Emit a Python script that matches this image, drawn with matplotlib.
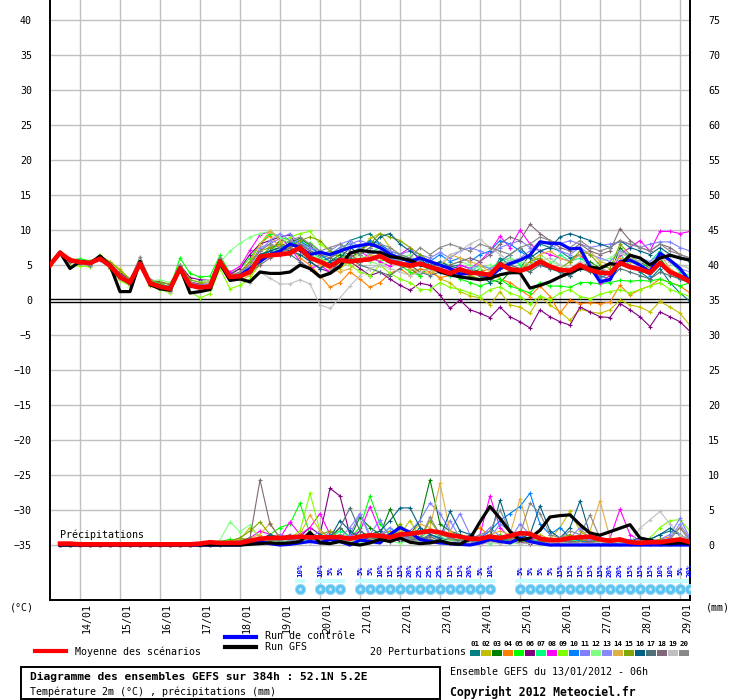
import numpy as np
import matplotlib
matplotlib.use("Agg")
import matplotlib.pyplot as plt
from matplotlib.lines import Line2D
from matplotlib.patches import Rectangle
from matplotlib.transforms import ScaledTranslation

plt.rcParams['font.family'] = ['DejaVu Sans Mono', 'DejaVu Sans']

# time axis: 13/01 06h + 0..384h every 6h
hours = list(range(0, 385, 6))
day_labels = ['14/01', '15/01', '16/01', '17/01', '18/01', '19/01', '20/01', '21/01',
              '22/01', '23/01', '24/01', '25/01', '26/01', '27/01', '28/01', '29/01']
day_hours = [18 + 24 * k for k in range(len(day_labels))]

# temperature 2m (deg C)
mean_t = [5.0, 6.75, 5.7, 5.4, 5.3, 5.9, 4.9, 3.3, 2.5, 5.2, 2.4, 1.9, 1.6, 4.5, 2.1, 1.8, 1.9, 5.5,
          3.3, 3.4, 4.0, 6.2, 6.4, 6.5, 6.7, 7.5, 6.0, 5.5, 4.8, 5.7, 5.5, 5.7, 5.8, 6.3, 5.5, 5.2, 4.9, 5.2, 4.7, 4.3, 3.8,
          4.4, 3.9, 3.8, 3.6, 5.1, 4.4, 4.2, 4.6, 5.5, 4.8, 4.3, 4.2, 5.0, 4.3, 3.9, 3.8, 5.3, 4.7, 4.4, 3.9, 5.3, 4.0, 3.4, 2.6]
ctrl_t = [5.0, 6.8, 5.6, 5.5, 5.3, 6.0, 4.9, 3.2, 2.4, 5.3, 2.4, 1.9, 1.5, 4.6, 2.0, 1.8, 1.8, 5.6,
          3.0, 3.5, 4.5, 5.5, 6.5, 7.0, 8.0, 7.5, 6.5, 6.8, 6.5, 7.0, 7.5, 7.8, 8.0, 7.5, 6.5, 6.0, 5.5, 6.0, 5.5, 5.0, 4.5,
          3.7, 3.8, 3.8, 3.3, 4.5, 5.2, 5.7, 6.4, 8.3, 8.1, 8.1, 7.3, 7.4, 4.8, 2.6, 2.9, 5.5, 5.7, 5.0, 4.0, 6.7, 5.7, 4.5, 2.6]
gfs_t = [5.0, 6.8, 4.5, 5.5, 5.2, 6.3, 5.0, 1.2, 1.2, 5.5, 2.2, 1.6, 1.4, 4.6, 1.0, 1.2, 1.5, 5.2,
         2.8, 3.0, 2.6, 4.0, 3.8, 3.8, 4.0, 5.0, 4.5, 3.3, 3.8, 4.8, 6.7, 7.1, 6.9, 6.8, 6.2, 6.0, 5.7, 5.0, 4.8, 4.0, 3.6,
         3.3, 3.1, 2.9, 3.1, 3.6, 3.9, 3.9, 1.7, 2.1, 2.6, 3.3, 3.9, 4.5, 4.7, 4.5, 5.2, 5.0, 6.4, 6.0, 5.0, 6.0, 6.4, 6.0, 5.7]

t01 = [5.0, 6.8, 5.6, 5.7, 5.2, 6.0, 4.6, 3.6, 2.2, 5.6, 2.6, 2.0, 1.8, 4.2, 2.4, 1.9, 2.1, 5.9,
       3.2, 3.5, 4.2, 6.0, 7.5, 8.0, 7.0, 7.8, 6.5, 5.5, 6.0, 6.8, 8.5, 9.0, 9.5, 8.0, 6.8, 6.0, 5.5, 6.2, 5.0, 5.5, 4.8,
       5.0, 4.5, 4.0, 3.5, 6.0, 5.0, 5.5, 6.5, 8.0, 7.5, 7.0, 6.0, 6.5, 5.0, 4.5, 4.0, 5.5, 5.0, 4.0, 3.0, 4.5, 2.5, 1.0, -0.2]
t02 = [5.0, 6.8, 5.3, 5.5, 5.0, 6.3, 5.5, 4.4, 3.0, 5.0, 2.2, 1.6, 1.2, 4.8, 2.0, 1.5, 1.6, 5.2,
       3.0, 2.8, 3.5, 5.0, 8.0, 6.8, 7.5, 8.5, 7.0, 6.0, 5.0, 4.5, 5.5, 7.0, 8.8, 9.5, 7.5, 6.5, 5.0, 4.0, 4.5, 3.0, 2.5,
       1.2, 0.6, 0.3, -0.7, 1.2, -0.7, -1.0, -1.9, 0.4, -0.7, -1.7, -2.9, -1.3, -1.7, -1.9, -1.4, 0.0, -0.7, -1.0, -1.7, -0.2, -1.0, -1.9, -3.6]
t03 = [5.0, 6.7, 5.8, 5.2, 5.4, 6.1, 4.8, 3.0, 2.6, 5.3, 2.7, 2.3, 1.9, 4.3, 2.5, 2.3, 2.2, 5.4,
       3.5, 3.8, 4.5, 6.5, 7.0, 8.5, 8.2, 8.8, 7.8, 6.5, 5.5, 6.5, 6.0, 7.0, 8.5, 7.5, 6.5, 5.5, 4.5, 3.5, 4.8, 4.2, 3.8,
       4.0, 3.5, 4.5, 3.0, 2.5, 4.0, 4.5, 6.5, 5.5, 5.0, 4.0, 3.5, 4.5, 5.5, 4.5, 3.5, 7.5, 6.0, 5.5, 4.5, 6.0, 4.0, 3.0, 2.5]
t04 = [5.0, 6.8, 5.5, 5.6, 5.1, 5.8, 5.0, 3.4, 2.3, 5.1, 2.0, 1.7, 1.5, 4.7, 2.2, 1.7, 1.8, 5.6,
       3.3, 3.6, 5.5, 8.0, 9.2, 7.5, 7.8, 6.0, 5.0, 3.5, 1.8, 2.5, 4.0, 3.0, 1.8, 2.5, 3.8, 4.5, 3.5, 4.5, 4.0, 3.2, 3.5,
       4.5, 3.5, 4.0, 4.5, 3.0, 2.5, 1.5, 0.5, 2.0, 0.5, -1.9, 0.0, -0.5, -0.4, -0.5, -0.3, 2.1, 0.7, 1.5, 2.0, 3.0, 2.5, 2.0, 1.0]
t05 = [5.0, 6.7, 5.7, 5.9, 5.6, 6.2, 4.7, 3.2, 2.8, 5.5, 2.8, 2.4, 1.7, 6.0, 3.8, 3.3, 3.4, 6.4,
       3.8, 4.5, 6.0, 8.0, 9.5, 9.0, 8.5, 7.5, 8.2, 7.0, 6.5, 7.5, 8.0, 7.5, 6.5, 5.5, 6.0, 5.0, 4.0, 3.5, 5.0, 4.5, 4.0,
       3.0, 2.5, 2.0, 2.5, 3.0, 2.0, 1.5, 1.0, 2.5, 2.0, 2.0, 1.8, 2.5, 2.5, 2.3, 2.5, 2.8, 2.7, 2.8, 2.7, 3.0, 2.5, 2.0, 2.5]
t06 = [5.0, 6.8, 5.9, 5.3, 5.3, 6.0, 5.2, 3.8, 3.0, 5.4, 2.9, 2.6, 2.2, 5.0, 3.2, 2.9, 2.8, 5.8,
       3.6, 4.5, 6.5, 8.0, 8.5, 9.0, 9.3, 7.0, 5.5, 4.5, 4.0, 5.0, 5.5, 4.5, 3.5, 4.0, 3.0, 2.1, 1.4, 2.4, 2.1, 0.7, -1.2,
       0.0, -1.4, -1.9, -2.5, -1.0, -2.4, -3.1, -4.0, -1.4, -2.4, -3.1, -3.6, -1.0, -1.7, -2.4, -2.5, -0.5, -1.4, -2.4, -3.8, -1.7, -2.4, -3.1, -4.5]
t07 = [5.0, 6.7, 5.6, 5.5, 5.5, 5.9, 4.9, 3.1, 2.4, 5.0, 2.5, 2.0, 1.6, 4.4, 2.2, 1.9, 2.0, 5.3,
       3.0, 3.3, 4.0, 5.5, 6.5, 7.5, 8.0, 8.5, 7.0, 6.0, 6.5, 7.0, 6.0, 5.5, 6.8, 7.5, 6.0, 5.5, 5.0, 5.8, 4.5, 4.0, 3.5,
       3.5, 4.0, 5.0, 4.5, 5.5, 6.0, 5.0, 4.5, 5.5, 5.0, 6.5, 5.5, 6.0, 5.0, 4.0, 3.5, 6.5, 5.0, 4.5, 5.5, 7.0, 5.5, 4.0, 3.5]
t08 = [5.0, 6.8, 5.8, 5.3, 5.2, 5.8, 4.8, 3.3, 2.1, 5.2, 2.3, 1.9, 1.4, 4.5, 2.6, 2.2, 2.3, 5.1,
       4.0, 4.8, 7.1, 9.3, 9.8, 9.0, 7.5, 5.5, 4.5, 5.0, 4.0, 5.5, 6.5, 7.0, 6.0, 5.5, 4.8, 6.5, 7.5, 5.5, 5.0, 4.5, 4.2,
       5.0, 4.5, 5.5, 7.0, 9.1, 7.5, 10.0, 8.0, 7.0, 6.5, 6.0, 5.5, 6.5, 5.0, 2.5, 3.5, 6.5, 7.5, 8.5, 7.0, 9.8, 9.8, 9.5, 9.8]
t09 = [5.0, 6.7, 4.8, 4.9, 4.7, 6.5, 4.5, 2.8, 2.0, 5.0, 2.1, 1.5, 1.0, 4.1, 1.2, 0.3, 0.9, 4.5,
       1.6, 2.1, 3.0, 5.5, 7.0, 8.0, 9.0, 9.5, 9.8, 8.0, 7.0, 6.0, 5.0, 4.0, 3.5, 5.0, 3.8, 3.0, 2.5, 1.5, 1.5, 2.5, 1.8,
       1.5, 1.0, 0.5, 1.5, 1.9, 1.0, 0.5, -0.6, 0.6, 0.0, 1.0, 1.5, 0.5, 0.2, 0.8, 1.2, 1.5, 1.0, 1.5, 2.0, 2.5, 1.5, 1.0, 0.5]
t10 = [5.0, 6.8, 5.7, 5.6, 5.4, 5.7, 5.0, 3.5, 2.7, 5.3, 2.4, 1.8, 1.7, 4.6, 2.0, 1.7, 1.9, 5.5,
       3.0, 3.2, 4.5, 6.0, 7.0, 7.5, 8.0, 8.5, 7.5, 6.5, 5.5, 6.0, 6.5, 7.5, 8.5, 8.0, 7.0, 6.5, 6.0, 5.0, 5.5, 6.5, 5.5,
       6.0, 5.5, 6.5, 7.0, 8.5, 8.0, 7.0, 6.0, 5.0, 4.5, 4.0, 3.5, 4.5, 5.0, 3.0, 4.0, 5.5, 5.0, 4.5, 3.5, 5.0, 4.0, 3.0, 2.5]
t11 = [5.0, 6.7, 5.6, 5.4, 5.3, 6.0, 4.8, 3.4, 2.6, 5.4, 2.5, 2.1, 1.7, 4.4, 2.3, 2.0, 2.1, 5.4,
       3.4, 3.8, 5.0, 7.5, 8.0, 8.8, 9.5, 8.0, 7.5, 7.0, 6.5, 7.5, 8.0, 8.5, 8.0, 7.5, 7.0, 6.5, 7.0, 6.5, 6.0, 6.8, 6.0,
       7.0, 7.5, 7.0, 6.5, 7.5, 8.0, 8.5, 7.5, 7.0, 7.5, 8.0, 8.5, 8.0, 7.5, 7.8, 8.0, 8.3, 8.0, 7.5, 8.0, 8.3, 8.3, 7.5, 7.0]
t12 = [5.0, 6.8, 5.5, 5.5, 5.1, 5.9, 4.9, 3.2, 2.5, 5.1, 2.7, 2.9, 2.5, 4.8, 2.8, 2.6, 2.9, 5.3,
       7.0, 8.1, 9.0, 9.5, 9.8, 9.0, 8.0, 7.5, 6.5, 5.8, 5.5, 5.0, 5.5, 6.5, 5.5, 5.0, 5.5, 6.0, 6.5, 5.0, 4.5, 5.5, 5.0,
       5.5, 5.0, 4.5, 5.0, 4.5, 6.0, 5.5, 5.0, 6.5, 5.5, 5.0, 4.5, 5.0, 4.5, 5.5, 6.0, 7.0, 6.0, 5.5, 5.0, 6.0, 5.5, 5.0, 4.5]
t13 = [5.0, 6.7, 5.7, 5.3, 5.4, 5.8, 5.1, 3.6, 2.4, 5.2, 2.6, 2.2, 1.8, 4.6, 2.4, 2.1, 2.2, 5.6,
       3.2, 3.6, 5.0, 7.0, 8.5, 9.5, 8.5, 8.0, 7.0, 6.5, 7.0, 8.0, 8.5, 7.5, 6.5, 7.0, 6.0, 5.5, 6.0, 5.5, 5.0, 4.5, 4.0,
       4.0, 4.5, 5.0, 4.5, 5.0, 5.5, 6.0, 7.0, 8.5, 8.0, 7.0, 6.5, 7.5, 6.5, 6.0, 5.5, 7.0, 6.5, 6.0, 5.5, 6.5, 5.5, 4.5, 4.0]
t14 = [5.0, 6.8, 5.6, 5.5, 5.2, 6.1, 4.7, 3.0, 2.2, 5.0, 2.3, 1.8, 1.4, 4.3, 2.1, 1.8, 2.0, 5.0,
       3.5, 4.0, 5.5, 8.0, 9.9, 8.5, 7.0, 6.5, 6.0, 5.0, 4.5, 4.0, 4.5, 5.5, 6.5, 6.0, 5.5, 5.0, 4.5, 4.0, 3.8, 4.5, 6.5,
       6.0, 5.5, 5.0, 4.0, 5.5, 5.0, 4.5, 5.5, 6.5, 7.0, 6.0, 5.5, 6.5, 7.0, 5.5, 5.0, 6.0, 5.5, 5.0, 4.5, 6.5, 4.5, 3.5, 3.0]
t15 = [5.0, 6.7, 5.8, 5.6, 5.5, 6.2, 5.4, 4.2, 2.9, 5.6, 2.8, 2.5, 2.3, 4.9, 2.9, 2.5, 2.6, 5.7,
       3.4, 4.0, 5.5, 7.0, 7.5, 8.0, 7.5, 8.5, 9.0, 8.5, 7.0, 6.0, 6.5, 7.0, 8.0, 9.5, 9.0, 8.5, 7.5, 6.5, 5.5, 5.0, 4.5,
       4.0, 3.5, 3.0, 4.0, 5.0, 4.5, 4.0, 5.5, 6.0, 5.0, 4.5, 5.5, 7.0, 6.5, 5.0, 4.5, 8.0, 6.5, 5.0, 4.0, 5.5, 4.0, 3.5, 3.0]
t16 = [5.0, 6.8, 5.7, 5.4, 5.3, 5.9, 4.9, 3.3, 2.5, 5.3, 2.4, 2.0, 1.6, 4.5, 2.3, 2.0, 2.0, 5.5,
       3.2, 3.4, 4.5, 6.5, 7.0, 7.5, 7.0, 6.5, 5.5, 4.5, 5.5, 6.0, 7.5, 6.5, 7.5, 9.0, 9.5, 8.0, 7.0, 6.0, 4.5, 5.5, 4.8,
       4.5, 4.0, 3.5, 2.5, 5.5, 6.5, 7.5, 6.0, 7.0, 7.5, 9.0, 9.5, 9.0, 8.5, 8.0, 7.5, 8.5, 7.5, 7.0, 6.5, 7.5, 6.5, 6.0, 5.5]
t17 = [5.0, 6.7, 5.6, 5.5, 5.2, 5.8, 5.0, 3.5, 2.6, 5.4, 2.5, 2.1, 1.9, 4.6, 2.4, 2.0, 2.1, 5.4,
       3.3, 3.5, 4.5, 6.0, 6.5, 7.0, 6.5, 5.5, 4.5, 3.5, 4.0, 5.5, 6.0, 5.0, 4.5, 4.0, 3.5, 4.5, 5.0, 4.0, 3.5, 4.0, 3.8,
       3.5, 4.0, 3.5, 3.0, 4.5, 5.0, 4.5, 4.0, 5.0, 4.5, 4.0, 3.5, 4.5, 4.0, 3.5, 3.0, 4.5, 4.0, 3.5, 3.0, 4.0, 3.5, 3.0, 2.5]
t18 = [5.0, 6.8, 5.5, 5.3, 5.0, 6.0, 4.6, 3.1, 2.3, 5.5, 2.1, 1.7, 1.3, 4.2, 2.0, 1.6, 1.7, 5.2,
       3.1, 3.3, 4.0, 5.0, 6.0, 6.5, 7.5, 8.0, 7.0, 6.5, 6.0, 7.0, 6.5, 5.5, 6.0, 6.5, 5.5, 5.0, 5.5, 6.0, 5.5, 4.5, 5.0,
       5.5, 6.0, 5.5, 6.5, 8.0, 9.0, 8.5, 10.8, 9.5, 8.5, 7.5, 7.0, 8.0, 7.0, 6.5, 7.0, 10.2, 8.5, 7.5, 7.0, 8.0, 7.5, 6.5, 6.0]
t19 = [5.0, 6.7, 5.7, 5.6, 5.4, 5.9, 4.8, 3.2, 2.4, 5.1, 2.3, 1.6, 1.2, 4.4, 1.9, 1.4, 1.6, 5.0,
       3.0, 2.8, 2.5, 4.0, 3.1, 2.3, 2.3, 2.9, 2.3, -0.7, -1.2, 0.3, 2.0, 3.5, 4.5, 5.0, 4.5, 4.0, 3.5, 4.0, 4.5, 5.0, 6.5,
       7.0, 8.0, 8.7, 7.5, 6.5, 5.5, 6.0, 5.0, 5.5, 6.0, 5.0, 4.5, 5.5, 5.0, 4.5, 4.0, 6.7, 6.0, 5.5, 5.0, 6.0, 5.5, 5.0, 4.5]
t20 = [5.0, 6.8, 5.8, 5.4, 4.8, 6.0, 5.2, 3.6, 2.8, 6.2, 2.9, 1.9, 1.5, 5.0, 2.6, 2.0, 2.3, 6.0,
       3.5, 4.0, 5.0, 7.0, 8.0, 7.5, 8.5, 9.0, 8.0, 7.0, 7.5, 8.0, 7.0, 6.5, 7.5, 8.0, 7.5, 6.5, 6.0, 7.5, 6.5, 7.5, 8.0,
       7.5, 7.0, 8.0, 7.5, 7.0, 6.5, 7.5, 8.0, 9.0, 8.5, 8.0, 7.5, 8.5, 7.5, 7.0, 7.5, 8.5, 8.0, 7.5, 7.0, 8.0, 7.0, 6.5, 6.0]

# precipitation (mm) per 6h, from +6h to +384h
mean_p = [0.2, 0.2, 0.1, 0.1, 0.1, 0.1, 0.1, 0.1, 0.1, 0.1, 0.1, 0.1, 0.1, 0.1, 0.2, 0.4,
          0.3, 0.3, 0.3, 0.6, 0.9, 1.0, 1.0, 1.1, 1.2, 1.1, 1.1, 1.1, 1.1, 0.9, 1.2, 1.4,
          1.3, 1.1, 1.5, 1.6, 1.8, 2.0, 1.8, 1.4, 1.2, 0.9, 0.9, 1.2, 1.0, 1.3, 1.7, 1.6,
          0.9, 0.7, 0.7, 1.0, 1.1, 1.2, 0.8, 0.6, 0.8, 0.4, 0.3, 0.4, 0.4, 0.6, 0.8, 0.4]
ctrl_p = [0, 0, 0, 0, 0, 0, 0, 0, 0, 0, 0, 0, 0, 0, 0, 0,
          0, 0, 0, 0.2, 0.5, 0.2, 0, 0.1, 0.3, 0.5, 0.3, 0.8, 0.5, 0, 0.7, 0.5,
          0.3, 1.5, 2.5, 1.8, 0.8, 0.5, 0.3, 0.2, 0.1, 0, 0.3, 0.8, 0.5, 0.3, 1.0, 0.5,
          0.2, 0, 0, 0, 0, 0, 0, 0, 0, 0, 0, 0, 0, 0, 0, 0]
gfs_p = [0, 0, 0, 0, 0, 0, 0, 0, 0, 0, 0, 0, 0, 0, 0, 0,
         0, 0, 0, 0.1, 0.2, 0.3, 0.2, 0.3, 0.5, 1.8, 0.3, 0.2, 0.5, 0.2, 0, 0.3,
         0.8, 0.5, 1.0, 0.4, 0.2, 0.3, 0.6, 0.2, 0.1, 0.9, 3.3, 5.5, 3.8, 1.9, 0.7, 1.0,
         2.1, 4.0, 4.2, 4.3, 2.9, 1.7, 1.4, 1.9, 2.4, 2.9, 1.0, 0.7, 0.3, 0.2, 0.3, 0.2]

p01 = [0, 0, 0, 0, 0, 0, 0, 0, 0, 0, 0, 0, 0, 0, 0, 0.2,
       0.3, 0.5, 1.0, 0.6, 0.4, 1.2, 0.8, 0.5, 1.0, 0.6, 0.4, 1.5, 0.8, 0.5, 2.0, 1.2,
       0.8, 1.5, 0.6, 1.0, 2.5, 1.5, 1.0, 0.6, 0.5, 0.8, 0.4, 1.2, 0.6, 0.8, 1.5, 0.7,
       0.5, 0.3, 0.4, 1.0, 0.6, 0.4, 0.2, 0.3, 0.5, 0.3, 0.2, 0.8, 1.5, 2.0, 1.5, 0.5]
p02 = [0, 0, 0, 0, 0, 0, 0, 0, 0, 0, 0, 0, 0, 0, 0.1, 0.2,
       0.3, 0.5, 0.8, 2.5, 1.2, 0.6, 0.8, 1.0, 0.5, 1.5, 0.8, 0.6, 1.0, 0.5, 0.8, 1.2,
       2.0, 0.8, 1.5, 3.5, 1.0, 0.6, 0.5, 0.8, 1.2, 0.6, 0.4, 0.8, 0.5, 1.0, 0.6, 0.8,
       1.5, 0.8, 2.5, 4.8, 2.0, 1.0, 0.5, 0.3, 0.6, 0.4, 0.3, 0.2, 0.5, 0.8, 0.6, 0.3]
p03 = [0, 0, 0, 0, 0, 0, 0, 0, 0, 0, 0, 0, 0, 0, 0, 0,
       0, 0.2, 0.5, 0.3, 0.6, 0.8, 0.5, 1.0, 0.8, 0.6, 1.5, 0.8, 2.5, 1.0, 4.0, 2.5,
       1.5, 5.1, 2.0, 1.5, 3.5, 9.3, 3.0, 2.0, 1.5, 1.0, 0.6, 0.8, 0.5, 1.0, 1.5, 0.8,
       0.6, 0.4, 0.8, 1.2, 0.6, 0.8, 1.0, 0.5, 0.3, 0.5, 0.2, 0.3, 0.4, 0.3, 1.0, 0.5]
p04 = [0, 0, 0, 0, 0, 0, 0, 0, 0, 0, 0, 0, 0, 0, 0, 0.1,
       0.2, 0.4, 0.6, 0.3, 0.8, 1.2, 1.5, 0.8, 0.6, 1.0, 0.5, 2.0, 0.8, 0.6, 1.2, 0.8,
       1.5, 2.0, 1.0, 0.6, 0.8, 1.5, 1.0, 0.5, 0.8, 1.5, 2.5, 1.2, 0.6, 1.0, 0.8, 0.5,
       0.4, 0.8, 0.3, 0.6, 0.4, 0.8, 0.5, 0.3, 0.2, 0.3, 0.2, 0.5, 0.8, 1.2, 2.5, 0.8]
p05 = [0, 0, 0, 0, 0, 0, 0, 0, 0, 0, 0, 0, 0, 0, 0, 0.3,
       0.5, 0.8, 0.6, 1.0, 0.5, 1.5, 2.5, 3.0, 6.0, 1.5, 1.0, 0.8, 1.5, 1.0, 2.5, 7.0,
       3.0, 1.5, 2.0, 1.0, 0.8, 1.2, 0.6, 0.4, 0.6, 0.3, 0.5, 0.8, 1.5, 0.6, 0.4, 0.8,
       0.5, 0.3, 0.6, 1.0, 0.5, 0.3, 0.2, 0.4, 0.3, 0.2, 0.5, 0.3, 0.2, 0.4, 0.6, 0.3]
p06 = [0, 0, 0, 0, 0, 0, 0, 0, 0, 0, 0, 0, 0, 0, 0, 0,
       0.1, 0.3, 0.5, 1.0, 0.8, 1.5, 0.6, 0.8, 1.2, 2.5, 1.5, 8.1, 7.0, 1.4, 0.8, 1.0,
       0.6, 1.2, 0.5, 0.8, 1.0, 0.6, 0.4, 0.3, 0.5, 0.3, 0.2, 0.4, 0.3, 0.5, 0.3, 0.2,
       0.3, 0.2, 0.1, 0.3, 0.2, 0.1, 0.2, 0.1, 0.1, 0.2, 0.1, 0.1, 0.2, 0.1, 0.1, 0.1]
p07 = [0, 0, 0, 0, 0, 0, 0, 0, 0, 0, 0, 0, 0, 0, 0, 0.2,
       0.3, 0.6, 0.8, 0.5, 1.0, 0.6, 1.2, 0.8, 1.5, 0.8, 0.6, 1.0, 2.0, 1.2, 0.8, 1.5,
       1.0, 2.5, 1.5, 0.8, 1.0, 2.0, 1.2, 0.6, 0.8, 1.0, 0.6, 1.5, 0.8, 0.6, 1.0, 0.5,
       0.6, 0.4, 0.3, 0.5, 0.8, 0.4, 0.3, 0.6, 0.4, 0.3, 0.2, 0.4, 0.3, 0.5, 0.8, 0.4]
p08 = [0, 0, 0, 0, 0, 0, 0, 0, 0, 0, 0, 0, 0, 0, 0, 0,
       0.2, 0.3, 0.6, 1.0, 2.0, 1.5, 1.0, 3.3, 1.5, 2.5, 4.5, 1.5, 0.8, 1.2, 2.0, 5.5,
       2.0, 1.0, 0.8, 1.5, 1.0, 0.6, 0.5, 0.8, 0.6, 0.5, 1.5, 7.0, 2.5, 1.0, 1.5, 0.8,
       1.2, 0.6, 0.5, 1.0, 0.8, 0.5, 0.4, 1.0, 5.1, 1.5, 0.6, 0.4, 0.3, 0.2, 0.5, 0.3]
p09 = [0, 0, 0, 0, 0, 0, 0, 0, 0, 0, 0, 0, 0, 0, 0, 0,
       0, 0.2, 0.5, 0.3, 0.8, 0.6, 0.5, 1.0, 2.0, 7.4, 2.0, 1.0, 0.6, 0.8, 1.5, 1.0,
       0.6, 0.8, 1.2, 0.5, 1.0, 0.6, 0.4, 0.8, 0.5, 0.3, 0.4, 0.6, 0.3, 0.5, 0.4, 0.3,
       0.2, 0.3, 0.2, 0.4, 0.3, 0.2, 0.3, 0.5, 0.4, 0.3, 0.6, 1.0, 2.5, 3.5, 3.6, 2.0]
p10 = [0, 0, 0, 0, 0, 0, 0, 0, 0, 0, 0, 0, 0, 0, 0, 0,
       0.1, 0.2, 0.5, 0.3, 0.6, 0.8, 0.5, 0.6, 1.0, 0.5, 0.8, 1.5, 0.6, 1.0, 0.8, 1.2,
       1.5, 0.8, 2.0, 1.0, 0.6, 1.5, 0.8, 0.5, 0.6, 0.8, 1.0, 2.0, 3.5, 4.5, 5.5, 7.4,
       3.0, 1.5, 2.5, 1.0, 0.6, 0.4, 0.3, 0.2, 0.2, 0.1, 0.1, 0.2, 0.3, 0.2, 0.3, 0.2]
p11 = [0, 0, 0, 0, 0, 0, 0, 0, 0, 0, 0, 0, 0, 0, 0, 0,
       0.2, 0.4, 0.3, 0.6, 1.0, 0.8, 1.5, 1.0, 0.6, 1.0, 2.0, 1.2, 0.8, 1.5, 4.5, 1.5,
       3.6, 1.0, 0.8, 2.0, 3.5, 6.0, 4.5, 2.0, 4.5, 1.5, 1.0, 2.5, 1.2, 0.8, 3.0, 1.5,
       0.8, 0.6, 0.5, 0.8, 1.5, 0.6, 0.4, 0.5, 0.8, 0.6, 0.3, 0.5, 0.8, 1.5, 3.8, 1.0]
p12 = [0, 0, 0, 0, 0, 0, 0, 0, 0, 0, 0, 0, 0, 0, 0, 0.1,
       0.7, 3.3, 1.9, 2.9, 0.8, 0.5, 0.6, 0.3, 0.5, 0.8, 0.6, 0.4, 0.6, 0.8, 0.5, 0.6,
       0.8, 0.5, 0.3, 0.6, 0.4, 0.5, 0.8, 0.6, 0.4, 0.3, 0.5, 0.2, 0.4, 0.3, 0.2, 0.4,
       0.3, 0.2, 0.3, 0.2, 0.1, 0.2, 0.3, 0.2, 0.1, 0.2, 0.1, 0.2, 0.3, 0.2, 0.1, 0.2]
p13 = [0, 0, 0, 0, 0, 0, 0, 0, 0, 0, 0, 0, 0, 0, 0, 0,
       0.1, 0.3, 0.6, 0.8, 0.5, 1.2, 0.8, 0.6, 1.0, 0.8, 1.5, 0.6, 1.0, 2.5, 4.5, 1.0,
       1.5, 2.5, 1.0, 0.8, 2.0, 1.5, 1.0, 3.5, 1.0, 0.8, 0.5, 1.0, 3.0, 2.0, 0.8, 0.6,
       0.5, 0.4, 0.6, 1.0, 2.5, 0.8, 0.6, 0.4, 0.6, 0.8, 0.4, 0.3, 0.6, 1.0, 3.0, 0.8]
p14 = [0, 0, 0, 0, 0, 0, 0, 0, 0, 0, 0, 0, 0, 0, 0, 0,
       0.2, 0.5, 0.8, 1.0, 1.5, 3.1, 1.0, 0.8, 1.5, 4.3, 2.0, 1.0, 1.5, 0.8, 1.2, 1.0,
       0.8, 1.2, 2.0, 1.5, 3.0, 2.5, 8.8, 2.0, 1.0, 0.8, 0.6, 1.5, 2.0, 1.5, 6.6, 1.5,
       0.8, 1.0, 0.6, 0.8, 1.5, 2.0, 6.3, 1.0, 0.6, 0.4, 0.3, 0.5, 0.3, 0.6, 0.8, 0.4]
p15 = [0, 0, 0, 0, 0, 0, 0, 0, 0, 0, 0, 0, 0, 0, 0, 0.1,
       0.3, 0.6, 1.0, 2.0, 3.3, 1.5, 1.0, 0.8, 1.2, 0.8, 1.5, 2.0, 1.0, 0.6, 1.5, 1.0,
       1.5, 1.0, 3.0, 1.2, 0.8, 3.5, 1.5, 1.0, 0.6, 0.8, 0.5, 1.0, 0.8, 1.2, 0.6, 0.5,
       0.4, 0.6, 1.0, 1.5, 0.8, 0.4, 0.6, 0.3, 0.5, 0.3, 0.6, 0.4, 0.8, 0.5, 0.3, 0.2]
p16 = [0, 0, 0, 0, 0, 0, 0, 0, 0, 0, 0, 0, 0, 0, 0, 0,
       0.1, 0.3, 0.5, 1.0, 0.6, 1.5, 1.0, 0.8, 1.2, 0.8, 1.5, 1.0, 3.5, 2.0, 1.0, 1.5,
       2.0, 3.5, 5.3, 5.3, 2.5, 1.5, 1.0, 4.8, 2.0, 1.5, 0.8, 1.0, 6.4, 2.0, 1.0, 1.5,
       5.6, 2.0, 1.0, 2.5, 6.3, 1.5, 1.0, 0.6, 0.8, 0.6, 1.0, 0.8, 1.5, 2.4, 1.5, 0.6]
p17 = [0, 0, 0, 0, 0, 0, 0, 0, 0, 0, 0, 0, 0, 0, 0, 0,
       0.1, 0.2, 0.4, 0.8, 0.6, 1.0, 0.5, 0.8, 1.0, 1.5, 0.8, 1.2, 2.5, 5.3, 2.0, 1.0,
       0.8, 1.5, 1.0, 0.6, 1.2, 0.8, 0.5, 1.0, 0.6, 0.4, 0.8, 0.5, 1.0, 0.6, 0.4, 0.3,
       0.5, 0.3, 0.4, 0.6, 0.3, 0.5, 0.8, 0.4, 0.3, 0.2, 0.5, 0.3, 0.4, 0.6, 0.5, 0.3]
p18 = [0, 0, 0, 0, 0, 0, 0, 0, 0, 0, 0, 0, 0, 0, 0, 0,
       0, 0.1, 0.3, 1.0, 9.3, 3.0, 1.0, 1.5, 0.8, 1.0, 0.6, 1.2, 0.8, 0.5, 1.0, 0.6,
       0.8, 0.5, 1.0, 0.6, 0.8, 1.2, 0.6, 0.4, 0.5, 0.3, 0.6, 0.8, 0.4, 0.6, 0.3, 0.5,
       0.4, 0.3, 0.2, 0.5, 0.3, 0.4, 0.2, 0.3, 0.2, 0.3, 0.2, 0.1, 0.2, 0.3, 0.2, 0.1]
p19 = [0, 0, 0, 0, 0, 0, 0, 0, 0, 0, 0, 0, 0, 0, 0, 0,
       0, 0.1, 0.2, 0.4, 0.3, 0.6, 0.8, 0.5, 0.6, 0.4, 0.8, 0.5, 1.0, 0.6, 0.8, 0.5,
       0.6, 1.0, 0.8, 0.5, 0.6, 0.4, 0.3, 0.5, 0.4, 0.3, 0.2, 0.4, 0.3, 0.5, 0.2, 0.3,
       0.2, 0.3, 0.4, 0.2, 0.3, 0.2, 0.4, 0.5, 0.3, 0.2, 2.4, 3.6, 4.8, 3.0, 1.5, 0.5]
p20 = [0, 0, 0, 0, 0, 0, 0, 0, 0, 0, 0, 0, 0, 0, 0, 0,
       0.1, 0.3, 0.5, 0.8, 1.0, 0.6, 0.8, 1.0, 0.8, 1.2, 0.6, 1.0, 1.5, 0.8, 1.2, 1.0,
       1.5, 0.8, 1.2, 1.0, 0.8, 4.0, 1.5, 1.0, 1.2, 0.8, 1.5, 2.0, 5.0, 2.0, 1.5, 6.0,
       4.5, 1.5, 1.0, 2.0, 1.5, 4.3, 1.0, 0.8, 0.6, 0.4, 0.5, 0.3, 0.6, 0.8, 2.5, 0.5]

# snow probability (%) per time step
snow_pct = [0, 0, 0, 0, 0, 0, 0, 0, 0, 0,
            0, 0, 0, 0, 0, 0, 0, 0, 0, 0,
            0, 0, 0, 0, 0, 10, 0, 10, 5, 5,
            0, 5, 5, 10, 15, 15, 20, 25, 25, 25,
            15, 15, 20, 5, 10, 0, 0, 5, 5, 5,
            5, 15, 15, 15, 15, 15, 20, 20, 15, 15,
            15, 10, 10, 5, 20]

pert_temp = [t01, t02, t03, t04, t05, t06, t07, t08, t09, t10,
             t11, t12, t13, t14, t15, t16, t17, t18, t19, t20]
pert_prec = [p01, p02, p03, p04, p05, p06, p07, p08, p09, p10,
             p11, p12, p13, p14, p15, p16, p17, p18, p19, p20]
pert_colors = ['#008080', '#c0c000', '#008000', '#ff8000', '#00ff00', '#800080', '#00ff80',
               '#ff00ff', '#80ff00', '#0080ff', '#8080ff', '#80ff80', '#8888ff', '#e0b040',
               '#80a800', '#006080', '#507078', '#806878', '#c0c0c0', '#888888']

W, H = 740, 700
PREC0 = -35  # precipitation zero on the temperature scale

fig = plt.figure(figsize=(W / 100, H / 100), dpi=100)
ax = fig.add_axes([50 / W, 100 / H, 640 / W, 600 / H])
ax.set_xlim(0, 384)
ax.set_ylim(-300 / 7, 300 / 7)

# grid
for v in range(-35, 45, 5):
    if v != 0:
        ax.axhline(v, color='#c0c0c0', lw=1, zorder=0)
for d in day_hours:
    ax.axvline(d, color='#c0c0c0', lw=1, zorder=0)
ax.axhline(0.15, color='black', lw=1, zorder=1)
ax.axhline(-0.25, color='black', lw=1, zorder=1)

# temperature
for vals, col in zip(pert_temp, pert_colors):
    ax.plot(hours, vals, color=col, lw=0.8, marker='+', ms=2.5, mew=0.8, zorder=2)
ax.plot(hours, ctrl_t, color='#0000ff', lw=2.3, zorder=3)
ax.plot(hours, gfs_t, color='black', lw=2.3, zorder=3)
ax.plot(hours, mean_t, color='#ff0000', lw=3.3, zorder=4)

# precipitation
ph = hours[1:]
for vals, col in zip(pert_prec, pert_colors):
    ax.plot(ph, [PREC0 + v for v in vals], color=col, lw=0.8, marker='+', ms=2.5, mew=0.8, zorder=2)
ax.plot(ph, [PREC0 + v for v in ctrl_p], color='#0000ff', lw=2.3, zorder=3)
ax.plot(ph, [PREC0 + v for v in gfs_p], color='black', lw=2.3, zorder=3)
ax.plot(ph, [PREC0 + v for v in mean_p], color='#ff0000', lw=3.3, zorder=4)
ax.text(6, -33.6, 'Précipitations', fontsize=7.2, ha='left', va='center', zorder=5)

# snow symbols
sh = [h for h, p in zip(hours, snow_pct) if p > 0]
sp = [p for p in snow_pct if p > 0]
ax.bar(sh, [0.6] * len(sh), width=6, bottom=-40.45, color='#c8ffff', zorder=2)
ax.scatter(sh, [-41.3] * len(sh), s=55, color='#5cc4f0', edgecolors='#9ad8f8', linewidths=0.6, zorder=3)
ax.scatter(sh, [-41.3] * len(sh), s=14, marker='*', color='#d8f0ff', linewidths=0, zorder=4)
for h, p in zip(sh, sp):
    ax.text(h, -38.6, f'{p}%', rotation=90, fontsize=5.3, fontweight='bold', color='#0000ff',
            ha='center', va='center', zorder=5)

# axes styling
for s in ['left', 'right', 'bottom']:
    ax.spines[s].set_linewidth(1.4)
ax.spines['top'].set_visible(False)
ax.set_yticks(range(-35, 45, 5))
ax.tick_params(axis='y', length=0, pad=13, labelsize=7.2)
ax.set_xticks(day_hours)
ax.set_xticklabels(day_labels, rotation=90)
ax.tick_params(axis='x', length=0, pad=2, labelsize=7.2)
for lab in ax.get_xticklabels():
    lab.set_transform(lab.get_transform() + ScaledTranslation(7 / 100, 0, fig.dpi_scale_trans))

ax2 = ax.twinx()
lo, hi = ax.get_ylim()
ax2.set_ylim(lo - PREC0, hi - PREC0)
ax2.set_yticks(range(0, 80, 5))
ax2.tick_params(axis='y', length=0, pad=13, labelsize=7.2)
for s in ['left', 'top', 'bottom', 'right']:
    ax2.spines[s].set_visible(False)


def fx(x):
    return x / W


def fy(y):
    return 1 - y / H


fig.text(fx(10), fy(607), '(°C)', fontsize=7.2, va='center', ha='left')
fig.text(fx(706), fy(607), '(mm)', fontsize=7.2, va='center', ha='left')

# legend
fig.add_artist(Line2D([fx(225), fx(256)], [fy(637), fy(637)], color='#0000ff', lw=3))
fig.text(fx(265), fy(636), 'Run de contrôle', fontsize=7.2, va='center', ha='left')
fig.add_artist(Line2D([fx(225), fx(256)], [fy(647), fy(647)], color='black', lw=3))
fig.text(fx(265), fy(647), 'Run GFS', fontsize=7.2, va='center', ha='left')
fig.add_artist(Line2D([fx(35), fx(66)], [fy(651), fy(651)], color='#ff0000', lw=3))
fig.text(fx(75), fy(652), 'Moyenne des scénarios', fontsize=7.2, va='center', ha='left')
fig.text(fx(370), fy(652), '20 Perturbations', fontsize=7.2, va='center', ha='left')
for k, col in enumerate(pert_colors):
    x0 = 470 + 11 * k
    fig.add_artist(Rectangle((fx(x0), fy(656)), 10 / W, 6 / H, transform=fig.transFigure,
                             facecolor=col, edgecolor='none'))
    fig.text(fx(x0 + 5), fy(644), f'{k + 1:02d}', fontsize=5.3, fontweight='bold',
             va='center', ha='center')

# title box
fig.add_artist(Rectangle((fx(21), fy(699)), 419 / W, 32 / H, transform=fig.transFigure,
                         facecolor='none', edgecolor='black', lw=1.4))
fig.text(fx(30), fy(677), 'Diagramme des ensembles GEFS sur 384h : 52.1N 5.2E',
         fontsize=8.1, fontweight='bold', va='center', ha='left')
fig.text(fx(30), fy(692), 'Température 2m (°C) , précipitations (mm)',
         fontsize=7.2, va='center', ha='left')
fig.text(fx(450), fy(672), 'Ensemble GEFS du 13/01/2012 - 06h', fontsize=7.2, va='center', ha='left')
fig.text(fx(450), fy(692), 'Copyright 2012 Meteociel.fr', fontsize=8.3, fontweight='bold',
         va='center', ha='left')

fig.savefig('out.png', dpi=100)
